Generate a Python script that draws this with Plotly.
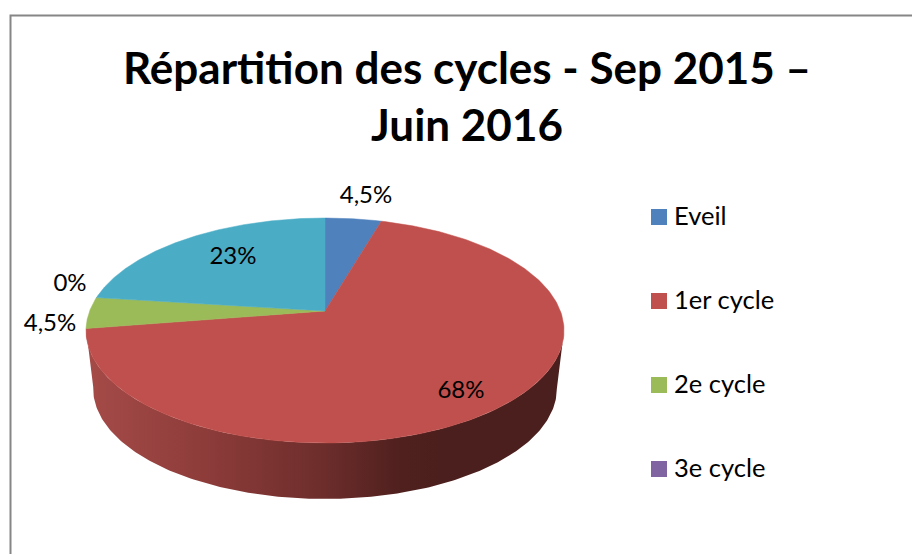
import numpy as np
import plotly.graph_objects as go

# Data
categories = ["Eveil", "1er cycle", "2e cycle", "3e cycle", "4e cycle"]
values = [4.5, 68, 4.5, 0, 23]
value_labels = ["4,5%", "68%", "4,5%", "0%", "23%"]
colors = ["#4f81bd", "#c0504d", "#9bbb59", "#8064a2", "#4bacc6"]
legend_categories = categories[:4]
title = "Répartition des cycles - Sep 2015 –<br>Juin 2016"

# Style / layout constants (page pixels)
W, H = 912, 554
CX, CY = 325.0, 311.0
A, B, P = 235.4, 109.1, 0.1733
SHRINK_X, SHRINK_Y, DEPTH = 0.97, 0.98, 58.6
LABEL_POS = [(366, 197), (461, 392), (50, 325), (70, 285), (233, 258)]
LEGEND_X, LEGEND_Y = [659] * 4, [217, 301, 385, 469]
LEGEND_TEXT_X, LEGEND_TEXT_Y = [674] * 4, [219, 303, 387, 471]
FONT = "Lato, Carlito, Calibri, sans-serif"


def top_rim(deg):
    t = np.radians(deg)
    w = 1 + P * np.cos(t)
    return CX + A * np.sin(t) / w, CY - B * np.cos(t) / w


def low_rim(deg):
    x, y = top_rim(deg)
    return CX + SHRINK_X * (x - CX), CY + SHRINK_Y * (y - CY) + DEPTH


fig = go.Figure()

bounds = np.concatenate([[0], np.cumsum(values)]) / np.sum(values) * 360

# Side wall of the slice that faces the viewer
red_start, red_end = bounds[1], bounds[2]
ts = np.linspace(max(red_start, 100), red_end, 200)
tx, ty = top_rim(ts)
lx, ly = low_rim(ts)
fig.add_trace(go.Scatter(
    x=np.concatenate([tx, lx[::-1]]), y=np.concatenate([ty, ly[::-1]]),
    mode="lines", line=dict(width=0), fill="toself",
    fillgradient=dict(
        type="horizontal",
        colorscale=[[0, "#a54b48"], [0.25, "#8d3c3a"], [0.5, "#6c2d2b"],
                    [0.66, "#4f201e"], [0.75, "#4b1f1d"], [1, "#4b1f1d"]],
    ),
    hoverinfo="skip", showlegend=False,
))

# Top faces
for name, color, a0, a1 in zip(categories, colors, bounds[:-1], bounds[1:]):
    if a1 - a0 <= 0:
        continue
    ts = np.linspace(a0, a1, 240)
    x, y = top_rim(ts)
    fig.add_trace(go.Scatter(
        x=np.concatenate([[CX], x, [CX]]), y=np.concatenate([[CY], y, [CY]]),
        mode="lines", line=dict(width=0.5, color=color), fill="toself",
        fillcolor=color, name=name, showlegend=False, hoverinfo="name",
    ))

# Data labels
fig.add_trace(go.Scatter(
    x=[p[0] for p in LABEL_POS], y=[p[1] for p in LABEL_POS],
    text=value_labels, mode="text", textposition="middle center",
    textfont=dict(family=FONT, size=24, color="#000000"),
    hoverinfo="skip", showlegend=False,
))

# Legend
fig.add_trace(go.Scatter(
    x=LEGEND_X, y=LEGEND_Y, mode="markers",
    marker=dict(symbol="square", size=16, color=colors[:4], line=dict(width=0)),
    hoverinfo="skip", showlegend=False,
))
fig.add_trace(go.Scatter(
    x=LEGEND_TEXT_X, y=LEGEND_TEXT_Y, mode="text",
    text=legend_categories, textposition="middle right",
    textfont=dict(family=FONT, size=25.5, color="#000000"),
    hoverinfo="skip", showlegend=False,
))

fig.update_layout(
    width=W, height=H,
    margin=dict(l=0, r=0, t=0, b=0),
    paper_bgcolor="#ffffff", plot_bgcolor="#ffffff",
    showlegend=False,
    title=dict(
        text="<b>" + title.replace("<br>", "</b><br><b>") + "</b>",
        x=467 / W, xanchor="center", xref="paper",
        y=1 - 84 / H, yanchor="top", yref="container",
        font=dict(family=FONT, size=44, color="#000000"),
    ),
    xaxis=dict(range=[0, W], visible=False, fixedrange=True),
    yaxis=dict(range=[H, 0], visible=False, fixedrange=True),
    shapes=[dict(type="rect", xref="x", yref="y", x0=10.5, y0=15.5, x1=W + 20, y1=H + 20,
                 line=dict(color="#868686", width=2), fillcolor="rgba(0,0,0,0)", layer="below")],
)

fig.write_html(
    "out.html",
    config=dict(displayModeBar=False),
    post_script="document.body.style.margin='0';document.body.style.overflow='hidden';",
)
